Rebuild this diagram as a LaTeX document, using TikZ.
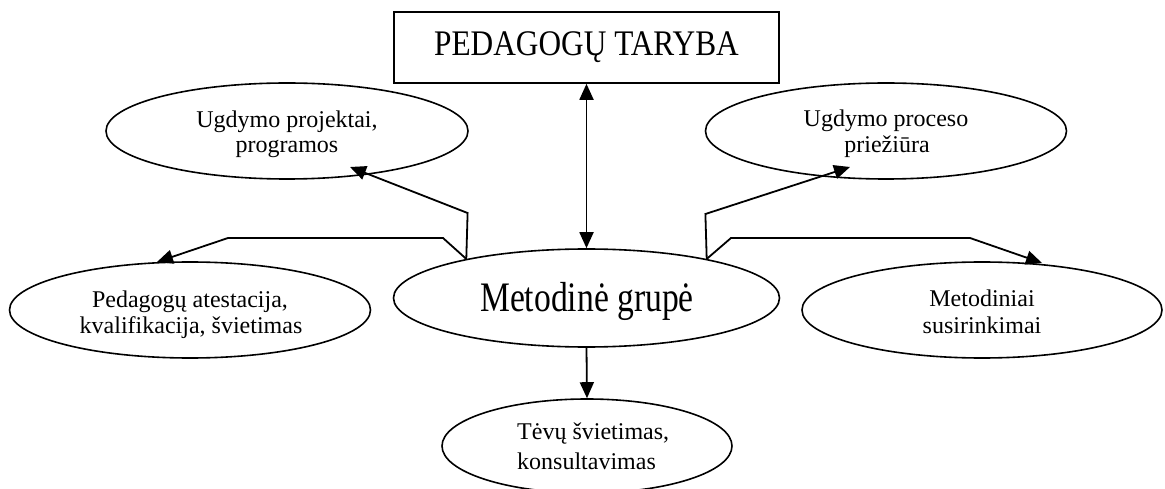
\documentclass[tikz,border=0pt]{standalone}
\usepackage{fontspec}
\setmainfont{Liberation Serif}
% slightly narrowed faces for the two headline labels
\newfontfamily\titlefont[FakeStretch=0.87]{Liberation Serif}
\newfontfamily\hubfont[FakeStretch=0.8]{Liberation Serif}
\usetikzlibrary{shapes.geometric,arrows.meta}

\begin{document}
\begin{tikzpicture}[x=1pt,y=-1pt,
  bubble/.style 2 args={draw,ellipse,line width=1.6pt,inner sep=0pt,
    minimum width=#1,minimum height=#2},
  lbl/.style={anchor=base,inner sep=0pt,font=\fontsize{24}{26}\selectfont},
  arr/.style={line width=1.8pt,-{Triangle[length=16pt,width=14pt]}},
  duo/.style={line width=1.8pt,{Triangle[length=16pt,width=14pt]}-{Triangle[length=16pt,width=14pt]}}
]
\useasboundingbox (0,0) rectangle (1165,489);
\clip (0,0) rectangle (1165,489);

% council box
\node[draw,line width=1.6pt,minimum width=385pt,minimum height=71pt,inner sep=0pt,
      font=\titlefont\fontsize{36}{40}\selectfont] (pt) at (586.5,47.5) {PEDAGOGŲ TARYBA};

% central group
\node[bubble={386pt}{98pt}] (mg) at (586.5,298) {};
\node[anchor=base,inner sep=0pt,font=\hubfont\fontsize{42}{46}\selectfont] (mgt) at (587,311) {Metodinė grupė};

% surrounding activities
\node[bubble={362pt}{96pt}] (up) at (287,131) {};
\node[lbl] (up1) at (287,128) {Ugdymo projektai,};
\node[lbl] (up2) at (287,153) {programos};

\node[bubble={361pt}{96pt}] (pp) at (886,131) {};
\node[lbl] (pp1) at (886,127) {Ugdymo proceso};
\node[lbl] (pp2) at (887,153) {priežiūra};

\node[bubble={361pt}{96pt}] (pa) at (190,310) {};
\node[lbl] (pa1) at (190,307) {Pedagogų atestacija,};
\node[lbl] (pa2) at (191,333) {kvalifikacija, švietimas};

\node[bubble={360pt}{96pt}] (ms) at (982,310) {};
\node[lbl] (ms1) at (982,306) {Metodiniai};
\node[lbl] (ms2) at (982,333) {susirinkimai};

\node[bubble={290pt}{94pt}] (tv) at (587,446) {};
\node[lbl,anchor=base west] (tv1) at (517,439) {Tėvų švietimas,};
\node[lbl,anchor=base west] (tv2) at (517,469) {konsultavimas};

% bends and arrow ends of the side connectors
\coordinate (lup) at (467.6,213);
\coordinate (upTip) at (350,167);
\coordinate (llo1) at (443,238);
\coordinate (llo2) at (228,238);
\coordinate (paTip) at (157,262);
\coordinate (rup) at (705.4,214);
\coordinate (ppTip) at (850,167);
\coordinate (rlo1) at (731,238);
\coordinate (rlo2) at (970,238);
\coordinate (msTip) at (1042,263);

% connectors
\draw[duo] (pt.south) -- (mg.north);
\draw[arr] (mg.south) -- (tv.north);
\draw[arr] (mg.162) -- (lup) -- (upTip);
\draw[arr] (mg.162) -- (llo1) -- (llo2) -- (paTip);
\draw[arr] (mg.18) -- (rup) -- (ppTip);
\draw[arr] (mg.18) -- (rlo1) -- (rlo2) -- (msTip);
\end{tikzpicture}
\end{document}
